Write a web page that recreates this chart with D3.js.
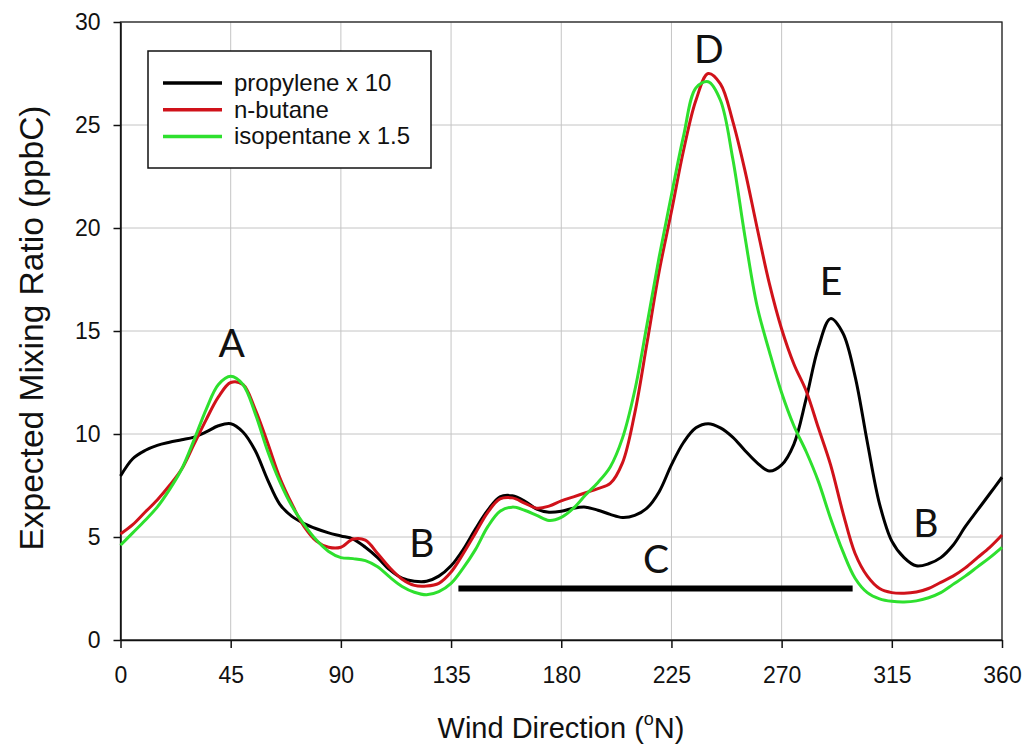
<!DOCTYPE html>
<html>
<head>
<meta charset="utf-8">
<script src="https://cdn.jsdelivr.net/npm/d3@7"></script>
<style>
  html, body { margin: 0; padding: 0; background: #fff; }
  svg { display: block; }
</style>
</head>
<body>
<svg id="chart" width="1025" height="746"></svg>
<script>
// Wind direction grid (degrees from north), every 5 degrees
const angles = d3.range(0, 361, 5);

// Expected mixing ratios (ppbC) along the angle grid
const propyleneX10 = [
  7.96, 8.8, 9.2, 9.45, 9.6, 9.72, 9.85, 10.1, 10.4, 10.5,
  10.1, 9.2, 7.8, 6.6, 6.0, 5.65, 5.4, 5.2, 5.05, 4.9,
  4.5, 4.0, 3.4, 3.0, 2.85, 2.85, 3.1, 3.6, 4.4, 5.4,
  6.3, 6.95, 7.0, 6.75, 6.35, 6.2, 6.25, 6.4, 6.45, 6.3,
  6.1, 5.95, 6.05, 6.4, 7.2, 8.5, 9.6, 10.3, 10.5, 10.3,
  9.85, 9.2, 8.6, 8.2, 8.5, 9.5, 11.7, 14.2, 15.6, 14.9,
  12.8, 9.6, 6.6, 4.8, 4.0, 3.6, 3.7, 4.0, 4.6, 5.5,
  6.3, 7.1, 7.9
];

const nButane = [
  5.15, 5.6, 6.2, 6.8, 7.5, 8.3, 9.5, 10.7, 11.8, 12.5,
  12.4, 11.2, 9.6, 7.9, 6.6, 5.5, 4.8, 4.5, 4.5, 4.9,
  4.85, 4.2, 3.5, 2.95, 2.65, 2.62, 2.75, 3.3, 4.2, 5.2,
  6.2, 6.85, 6.9, 6.65, 6.4, 6.5, 6.75, 6.95, 7.15, 7.35,
  7.6, 8.6, 11.0, 14.4, 17.9, 20.8, 23.8, 26.2, 27.5, 27.0,
  25.2, 22.8, 20.0, 17.3, 15.1, 13.4, 12.1, 10.3, 8.5, 6.2,
  4.2, 3.1, 2.5, 2.3, 2.27, 2.33, 2.5, 2.8, 3.1, 3.5,
  4.0, 4.5, 5.1
];

const isopentaneX15 = [
  4.6, 5.2, 5.8, 6.45, 7.3, 8.3, 9.7, 11.2, 12.4, 12.8,
  12.4, 11.0, 9.2, 7.7, 6.5, 5.6, 4.85, 4.3, 4.0, 3.95,
  3.85, 3.55, 3.05, 2.6, 2.32, 2.2, 2.35, 2.75, 3.5, 4.4,
  5.5, 6.25, 6.45, 6.3, 6.05, 5.8, 5.95, 6.4, 7.05, 7.65,
  8.4, 9.8, 12.1, 15.3, 18.6, 21.6, 24.5, 26.8, 27.1, 26.2,
  23.4, 19.6, 16.2, 14.0, 12.0, 10.4, 9.15, 7.7, 5.9, 4.3,
  3.0, 2.3, 2.0, 1.88, 1.85, 1.9, 2.05, 2.3, 2.7, 3.1,
  3.55, 4.0, 4.5
];

const seriesNames = ["propylene x 10", "n-butane", "isopentane x 1.5"];
const seriesColors = ["#000000", "#d0121a", "#2ee02e"];

// Axis ticks
const xTicks = [0, 45, 90, 135, 180, 225, 270, 315, 360];
const yTicks = [0, 5, 10, 15, 20, 25, 30];

// Sector C: wind-direction span and level of the bar
const sectorC = [138, 299];
const sectorCLevel = 2.5;

// Source-sector letters: [letter, direction, value at baseline]
const sectorLetters = [
  ["A", 45.4, 13.74],
  ["B", 123.1, 4.04],
  ["C", 218.7, 3.25],
  ["D", 240.3, 28.02],
  ["E", 290.2, 16.75],
  ["B", 328.9, 5.01]
];

const svg = d3.select("#chart");
const plotLeft = 120.5, plotRight = 1002, plotTop = 22, plotBottom = 640;

const x = d3.scaleLinear().domain([0, 360]).range([plotLeft, plotRight]);
const y = d3.scaleLinear().domain([0, 30]).range([plotBottom, plotTop]);

// Grid
const grid = svg.append("g").attr("stroke", "#c4c4c4").attr("stroke-width", 1);
xTicks.forEach(t => {
  grid.append("line").attr("x1", x(t)).attr("x2", x(t)).attr("y1", plotTop).attr("y2", plotBottom);
});
yTicks.forEach(t => {
  grid.append("line").attr("x1", plotLeft).attr("x2", plotRight).attr("y1", y(t)).attr("y2", y(t));
});

// Plot frame
svg.append("rect")
  .attr("x", plotLeft).attr("y", plotTop)
  .attr("width", plotRight - plotLeft).attr("height", plotBottom - plotTop)
  .attr("fill", "none").attr("stroke", "#222").attr("stroke-width", 1.3);

// Axes
const xAxis = d3.axisBottom(x).tickValues(xTicks).tickSize(8).tickSizeOuter(0).tickPadding(18.5);
const yAxis = d3.axisLeft(y).tickValues(yTicks).tickSize(7).tickSizeOuter(0).tickPadding(13);

const gx = svg.append("g").attr("transform", `translate(0,${plotBottom})`).call(xAxis);
const gy = svg.append("g").attr("transform", `translate(${plotLeft},0)`).call(yAxis);
[gx, gy].forEach(g => {
  g.select(".domain").attr("stroke", "#111").attr("stroke-width", 1.5);
  g.selectAll(".tick line").attr("stroke", "#111").attr("stroke-width", 1.5);
  g.selectAll(".tick text")
    .attr("fill", "#111")
    .style("font-family", "'Liberation Sans', Arial, sans-serif")
    .style("font-size", "23px");
});
gy.selectAll(".tick text").attr("dy", "0.34em");

// Axis titles
svg.append("text")
  .attr("x", 561).attr("y", 738)
  .attr("text-anchor", "middle")
  .attr("fill", "#111")
  .style("font-family", "'Liberation Sans', Arial, sans-serif")
  .style("font-size", "29px")
  .call(t => {
    t.append("tspan").text("Wind Direction (");
    t.append("tspan").text("o").style("font-size", "18px").attr("dy", "-13");
    t.append("tspan").text("N)").attr("dy", "13");
  });

svg.append("text")
  .attr("transform", "translate(43,328) rotate(-90)")
  .attr("text-anchor", "middle")
  .attr("fill", "#111")
  .style("font-family", "'Liberation Sans', Arial, sans-serif")
  .style("font-size", "33.5px")
  .text("Expected Mixing Ratio (ppbC)");

// Sector C bar
svg.append("line")
  .attr("x1", x(sectorC[0])).attr("x2", x(sectorC[1]))
  .attr("y1", y(sectorCLevel)).attr("y2", y(sectorCLevel))
  .attr("stroke", "#000").attr("stroke-width", 6);

// Curves
const line = d3.line()
  .x(d => x(d[0]))
  .y(d => y(d[1]))
  .curve(d3.curveCatmullRom.alpha(0.5));

const allSeries = [propyleneX10, nButane, isopentaneX15];
allSeries.forEach((vals, i) => {
  svg.append("path")
    .datum(angles.map((a, j) => [a, vals[j]]))
    .attr("d", line)
    .attr("fill", "none")
    .attr("stroke", seriesColors[i])
    .attr("stroke-width", 3)
    .attr("stroke-linejoin", "round");
});

// Sector letters
svg.append("g").selectAll("text")
  .data(sectorLetters)
  .join("text")
  .attr("x", d => x(d[1]))
  .attr("y", d => y(d[2]))
  .attr("text-anchor", "middle")
  .attr("fill", "#111")
  .style("font-family", "Lato, 'Open Sans', sans-serif")
  .style("font-size", "39px")
  .text(d => d[0]);

// Legend
const legend = svg.append("g");
legend.append("rect")
  .attr("x", 148).attr("y", 51).attr("width", 283).attr("height", 117)
  .attr("fill", "#fff").attr("stroke", "#111").attr("stroke-width", 1.5);
seriesNames.forEach((name, i) => {
  const yy = 83 + i * 26.7;
  legend.append("line")
    .attr("x1", 163).attr("x2", 222).attr("y1", yy).attr("y2", yy)
    .attr("stroke", seriesColors[i]).attr("stroke-width", 3.5);
  legend.append("text")
    .attr("x", 234).attr("y", yy + 8)
    .attr("fill", "#111")
    .style("font-family", "'Liberation Sans', Arial, sans-serif")
    .style("font-size", "24px")
    .text(name);
});
</script>
</body>
</html>
